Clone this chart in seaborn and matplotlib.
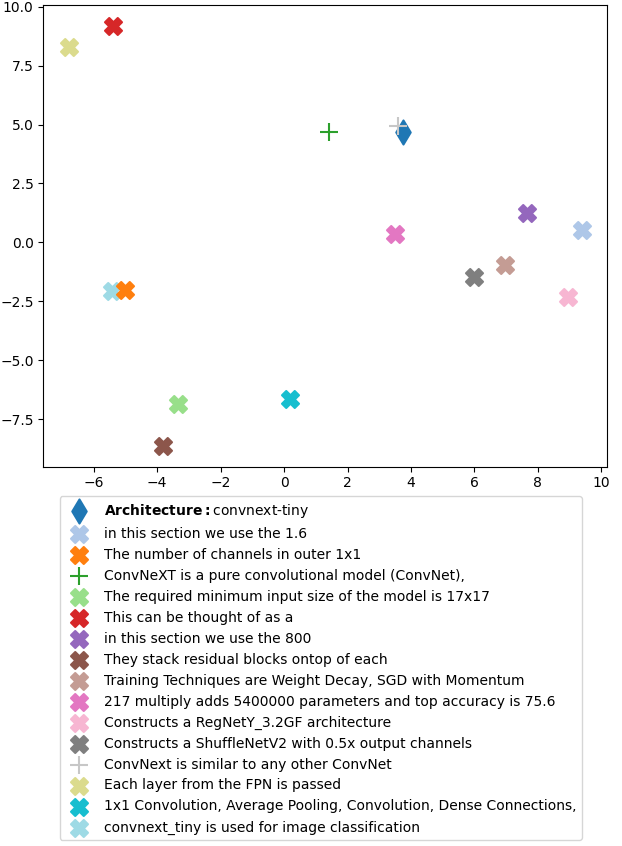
import matplotlib
matplotlib.use("Agg")
import matplotlib.pyplot as plt
import seaborn as sns

# Points, in the order they appear in the legend
labels = [
    r"$\bf{Architecture:}$convnext-tiny",
    "in this section we use the 1.6",
    "The number of channels in outer 1x1",
    "ConvNeXT is a pure convolutional model (ConvNet),",
    "The required minimum input size of the model is 17x17",
    "This can be thought of as a",
    "in this section we use the 800",
    "They stack residual blocks ontop of each",
    "Training Techniques are Weight Decay, SGD with Momentum",
    "217 multiply adds 5400000 parameters and top accuracy is 75.6",
    "Constructs a RegNetY_3.2GF architecture",
    "Constructs a ShuffleNetV2 with 0.5x output channels",
    "ConvNext is similar to any other ConvNet",
    "Each layer from the FPN is passed",
    "1x1 Convolution, Average Pooling, Convolution, Dense Connections,",
    "convnext_tiny is used for image classification",
]
xs = [3.75, 9.38, -5.00, 1.41, -3.34, -5.39, 7.67, -3.82,
      6.97, 3.50, 8.96, 5.99, 3.60, -6.78, 0.18, -5.43]
ys = [4.69, 0.52, -2.03, 4.69, -6.84, 9.17, 1.26, -8.63,
      -0.96, 0.37, -2.30, -1.45, 4.96, 8.28, -6.65, -2.08]

# styling
tab20 = sns.color_palette("tab20")
color_idx = [0, 1, 2, 4, 5, 6, 8, 10, 11, 12, 13, 14, 15, 17, 18, 19]
markers = ["d", "X", "X", "+", "X", "X", "X", "X",
           "X", "X", "X", "X", "+", "X", "X", "X"]

fig = plt.figure(figsize=(6.22, 8.46), dpi=100)
ax = fig.add_axes([0.0696, 0.4483, 0.9068, 0.5454])

for i, lab in enumerate(labels):
    c = tab20[color_idx[i]]
    # the last point sits under the orange one in the original
    z = 0.9 if i == len(labels) - 1 else 1
    sns.scatterplot(x=[xs[i]], y=[ys[i]], marker=markers[i], color=c,
                    edgecolor=c, linewidth=1.5, s=150, label=lab, ax=ax,
                    zorder=z)

ax.set_xticks(range(-6, 11, 2))
ax.set_yticks([-7.5, -5.0, -2.5, 0.0, 2.5, 5.0, 7.5, 10.0])

ax.legend(loc="upper center", bbox_to_anchor=(0.4920, -0.0645),
          borderaxespad=0, fontsize=10)

fig.savefig("out.png", dpi=100)
